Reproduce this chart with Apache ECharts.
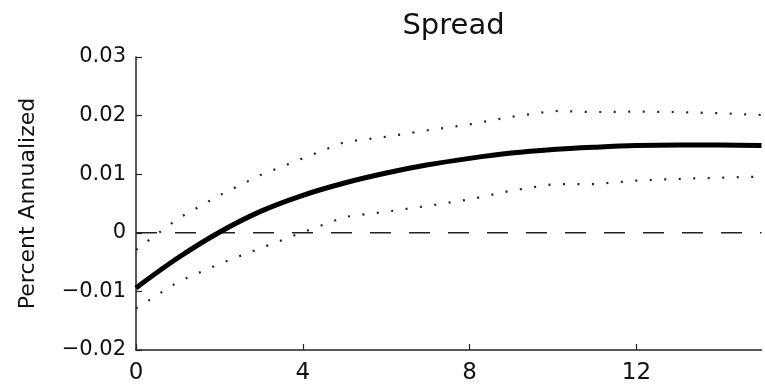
<!DOCTYPE html>
<html>
<head>
<meta charset="utf-8">
<script src="https://cdn.jsdelivr.net/npm/echarts@6/dist/echarts.min.js"></script>
<style>
  html, body { margin: 0; padding: 0; background: #fff; }
  #chart { width: 765px; height: 387px; }
</style>
</head>
<body>
<div id="chart"></div>
<script>
// ---- data ----
const horizon = [0, 1, 2, 3, 4, 5, 6, 7, 8, 9, 10, 11, 12, 13, 14, 15];
const irf   = [-0.0094, -0.0043, 0.0001, 0.0037, 0.0064, 0.0085, 0.0102, 0.0116, 0.0127, 0.0136, 0.0142, 0.0146, 0.0149, 0.0150, 0.0150, 0.0149];
const upper = [-0.0029, 0.0024, 0.0064, 0.0099, 0.0127, 0.0155, 0.0164, 0.0175, 0.0185, 0.0198, 0.0208, 0.0206, 0.0207, 0.0206, 0.0204, 0.0201];
const lower = [-0.0129, -0.0084, -0.0053, -0.0026, 0.0001, 0.0027, 0.0036, 0.0046, 0.0057, 0.0072, 0.0083, 0.0083, 0.0089, 0.0092, 0.0094, 0.0096];
const zeroLine = [0, 0];
const xTicks = [0, 4, 8, 12];
const yTicks = [-0.02, -0.01, 0, 0.01, 0.02, 0.03];
const yTickLabels = ['\u22120.02', '\u22120.01', '0', '0.01', '0.02', '0.03'];
const titleText = 'Spread';
const yAxisTitle = 'Percent Annualized';

const pairs = (vals) => horizon.map((h, i) => [h, vals[i]]);

const chart = echarts.init(document.getElementById('chart'), null, { renderer: 'canvas' });
const FONT = 'DejaVu Sans';

chart.setOption({
  animation: false,
  backgroundColor: '#ffffff',
  title: {
    text: titleText,
    left: 448.5,
    textAlign: 'center',
    top: 7,
    textStyle: { fontFamily: FONT, fontSize: 29, fontWeight: 'normal', color: '#111' }
  },
  grid: { left: 136, right: 3.5, top: 57, bottom: 37, containLabel: false },
  xAxis: {
    type: 'value',
    min: 0,
    max: 15,
    interval: 4,
    axisLine: { show: true, onZero: false, lineStyle: { color: '#222', width: 1.5 } },
    axisTick: { show: true, inside: true, length: 6, customValues: xTicks, lineStyle: { color: '#222', width: 1.2 } },
    axisLabel: {
      customValues: xTicks,
      margin: 12,
      fontFamily: FONT, fontSize: 23, color: '#111'
    },
    splitLine: { show: false }
  },
  yAxis: {
    type: 'value',
    min: -0.02,
    max: 0.03,
    interval: 0.01,
    name: yAxisTitle,
    nameLocation: 'middle',
    nameGap: 97,
    nameRotate: 90,
    nameTextStyle: { fontFamily: FONT, fontSize: 22, color: '#111' },
    axisLine: { show: true, onZero: false, lineStyle: { color: '#222', width: 1.5 } },
    axisTick: { show: true, inside: true, length: 6, customValues: yTicks, lineStyle: { color: '#222', width: 1.2 } },
    axisLabel: {
      customValues: yTicks,
      margin: 10,
      fontFamily: FONT, fontSize: 21, color: '#111',
      formatter: (v) => {
        let best = 0, bd = Infinity;
        yTicks.forEach((t, i) => { const d = Math.abs(t - v); if (d < bd) { bd = d; best = i; } });
        return yTickLabels[best];
      }
    },
    splitLine: { show: false }
  },
  series: [
    {
      name: 'zero',
      type: 'line',
      data: [[horizon[0], zeroLine[0]], [horizon[horizon.length - 1], zeroLine[1]]],
      showSymbol: false,
      symbol: 'none',
      lineStyle: { color: '#222', width: 1.4, type: [21, 18] },
      z: 1
    },
    {
      name: 'upper',
      type: 'line',
      data: pairs(upper),
      symbol: 'none',
      lineStyle: { color: '#222', width: 2.2, type: [2, 12.5] },
      z: 2
    },
    {
      name: 'lower',
      type: 'line',
      data: pairs(lower),
      symbol: 'none',
      lineStyle: { color: '#222', width: 2.2, type: [2, 12.5] },
      z: 2
    },
    {
      name: 'irf',
      type: 'line',
      data: pairs(irf),
      symbol: 'none',
      smooth: 0.35,
      lineStyle: { color: '#000', width: 5, cap: 'butt', join: 'round' },
      z: 3
    }
  ]
});
</script>
</body>
</html>
